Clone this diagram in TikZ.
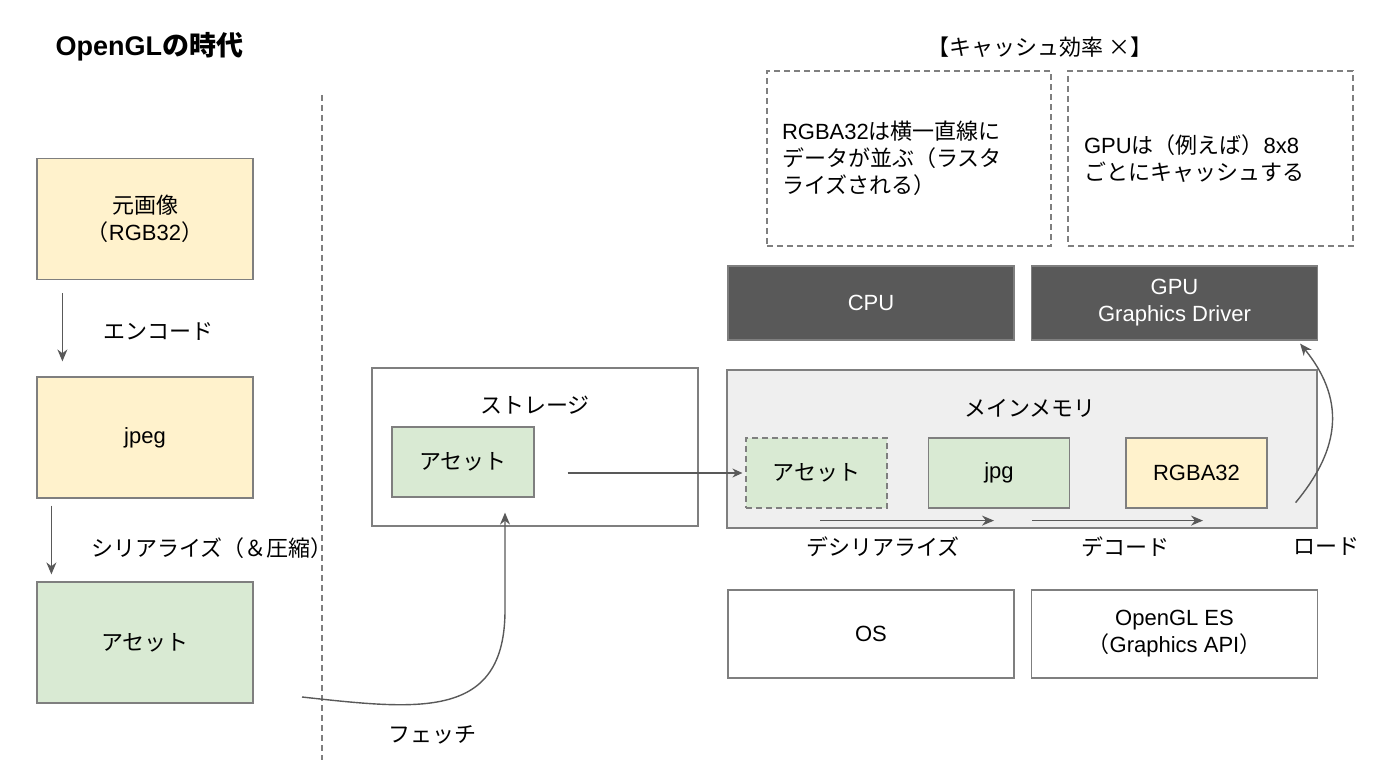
\documentclass[tikz,border=0pt]{standalone}
\usepackage{fontspec}
\setmainfont{Liberation Sans}
\newfontfamily\jp{Noto Sans CJK JP}
\usetikzlibrary{arrows.meta,positioning}

\definecolor{boxline}{HTML}{7F7F7F}
\definecolor{yellowbg}{HTML}{FFF2CC}
\definecolor{greenbg}{HTML}{D9EAD3}
\definecolor{darkbg}{HTML}{595959}
\definecolor{memorybg}{HTML}{EFEFEF}
\definecolor{arrowline}{HTML}{595959}

\begin{document}
\begin{tikzpicture}[x=1pt,y=-1pt,
    font=\fontsize{22}{27}\selectfont,
    box/.style={rectangle,draw=boxline,line width=1.2pt,inner sep=0pt,align=center},
    note/.style={rectangle,draw=boxline,line width=1.2pt,dash pattern=on 6pt off 4pt,
      inner ysep=0pt,align=left},
    arr/.style={draw=arrowline,line width=1.4pt,-{Stealth[length=12pt,width=10pt]}}]

  \useasboundingbox (0,0) rectangle (1400,783);

  % titles
  \node (title) at (52,47) [anchor=west,font=\fontsize{27}{30}\selectfont\bfseries]
    {OpenGL{\jp の時代}};
  \node (cachetitle) at (1040,47) {\jp 【キャッシュ効率 ×】};

  % divider
  \coordinate (divtop) at (322,95);
  \coordinate (divbot) at (322,760);
  \draw[boxline,line width=1.2pt,dash pattern=on 6pt off 4pt] (divtop) -- (divbot);

  % left column
  \begin{scope}[every node/.style={box,minimum width=216pt,minimum height=121pt}]
    \node (orig)  at (145,219)   [fill=yellowbg] {{\jp 元画像}\\{\jp （}RGB32{\jp ）}};
    \node (jpeg)  at (145,437.5) [fill=yellowbg] {jpeg};
    \node (asset) at (145,642.5) [fill=greenbg]  {\jp アセット};
  \end{scope}

  \node (enclbl) at (158,332) {\jp エンコード};
  \node (serlbl) at (88,548) [anchor=west] {\jp シリアライズ（＆圧縮）};

  \draw[arr] ([xshift=26pt,yshift=-13pt]orig.south west) -- ([xshift=26pt,yshift=15pt]jpeg.north west);
  \draw[arr] ([xshift=15pt,yshift=-7pt]jpeg.south west) -- ([xshift=15pt,yshift=7pt]asset.north west);

  % storage
  \node (storage) at (535,447) [box,minimum width=326pt,minimum height=158pt] {};
  \node (storagelbl) at (535,405) {\jp ストレージ};
  \node (sasset) at (463,462) [box,fill=greenbg,minimum width=142pt,minimum height=70pt] {\jp アセット};

  \coordinate (fetchfrom) at (302,697);
  \draw[arr] (fetchfrom) .. controls (420,710) and (505,720) .. (505,610)
    -- ([xshift=42pt,yshift=-15pt]sasset.south);
  \node (fetchlbl) at (432,735) {\jp フェッチ};

  % notes
  \node (note1) at (909,158.5) [note,inner xsep=15pt,minimum width=284pt,minimum height=175pt,
    text width=254pt]
    {RGBA32{\jp は横一直線に}\\{\jp データが並ぶ（ラスタ}\\{\jp ライズされる）}};
  \node (note2) at (1210.5,158.5) [note,inner xsep=16pt,minimum width=285pt,minimum height=175pt,
    text width=253pt]
    {GPU{\jp は（例えば）}8x8\\{\jp ごとにキャッシュする}};

  % hardware
  \begin{scope}[every node/.style={box,fill=darkbg,text=white,minimum width=286pt,minimum height=74pt}]
    \node (cpu) at (871,303)    {CPU};
    \node (gpu) at (1174.5,303) {GPU\\Graphics Driver};
  \end{scope}

  % main memory
  \node (memory) at (1022,449) [box,fill=memorybg,minimum width=590pt,minimum height=158pt] {};
  \node (memorylbl) at (1030,408) {\jp メインメモリ};
  \begin{scope}[every node/.style={box,minimum width=141pt,minimum height=70pt}]
    \node (masset) at (816.5,473)  [fill=greenbg,dash pattern=on 6pt off 4pt] {\jp アセット};
    \node (mjpg)   at (999,473)    [fill=greenbg] {jpg};
    \node (mrgba)  at (1196.5,473) [fill=yellowbg] {RGBA32};
  \end{scope}

  \draw[arr,line width=1.1pt,-{Stealth[length=10pt,width=9pt]}]
    ([xshift=33pt]sasset.east |- masset.west) -- ([xshift=-3pt]masset.west);
  \draw[arr] ([xshift=3.5pt,yshift=-12pt]masset.south) -- ([xshift=-5pt,yshift=-12pt]mjpg.south);
  \draw[arr] ([xshift=33pt,yshift=-12pt]mjpg.south) -- ([xshift=6.5pt,yshift=-12pt]mrgba.south);
  \draw[arr] ([xshift=28pt,yshift=6pt]mrgba.south east) .. controls (1335,455) and (1350,405)
    .. ([xshift=-18pt,yshift=-3pt]gpu.south east);

  \node (deserlbl) at (883,547)  {\jp デシリアライズ};
  \node (declbl)   at (1125,547) {\jp デコード};
  \node (loadlbl)  at (1326,547) {\jp ロード};

  % system
  \begin{scope}[every node/.style={box,minimum width=286pt,minimum height=88pt}]
    \node (os)   at (871,634)    {OS};
    \node (gles) at (1174.5,634) {OpenGL ES\\{\jp （}Graphics API{\jp ）}};
  \end{scope}

\end{tikzpicture}
\end{document}
